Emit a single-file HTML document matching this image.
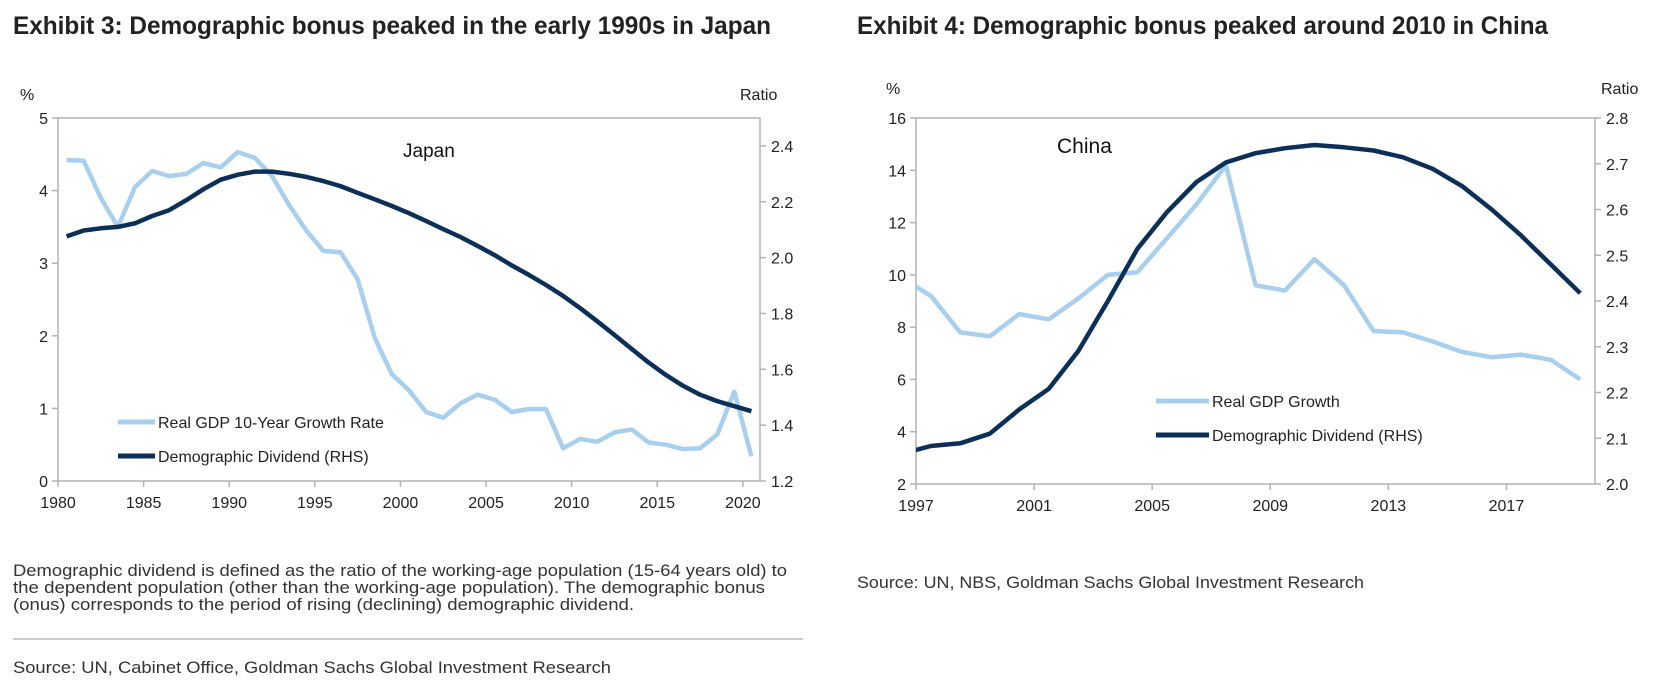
<!DOCTYPE html>
<html><head><meta charset="utf-8"><style>
html,body{margin:0;padding:0;background:#fff;}
svg{display:block;font-family:"Liberation Sans",Arial,sans-serif;}
.t{font-family:"Liberation Sans Narrow","Liberation Sans",sans-serif;font-weight:bold;font-size:25px;fill:#222;}
.n{font-family:"Liberation Sans Narrow","Liberation Sans",sans-serif;font-size:17px;fill:#333;}
.tk{font-size:16px;fill:#222;}
</style></head><body>
<svg id="c" width="1663" height="690" viewBox="0 0 1663 690">
<defs>
<clipPath id="clipJ"><rect x="58" y="118" width="702" height="363"/></clipPath>
<clipPath id="clipC"><rect x="916" y="118" width="679" height="366"/></clipPath>
</defs>
<text class="t" x="13" y="34" textLength="758" lengthAdjust="spacingAndGlyphs">Exhibit 3: Demographic bonus peaked in the early 1990s in Japan</text>
<text class="t" x="857" y="34" textLength="691" lengthAdjust="spacingAndGlyphs">Exhibit 4: Demographic bonus peaked around 2010 in China</text>
<g id="japan"></g>
<g id="china"></g>
<text class="n" x="13" y="576" textLength="774" lengthAdjust="spacingAndGlyphs">Demographic dividend is defined as the ratio of the working-age population (15-64 years old) to</text>
<text class="n" x="13" y="593" textLength="752" lengthAdjust="spacingAndGlyphs">the dependent population (other than the working-age population). The demographic bonus</text>
<text class="n" x="13" y="610" textLength="621" lengthAdjust="spacingAndGlyphs">(onus) corresponds to the period of rising (declining) demographic dividend.</text>
<line x1="13" y1="639" x2="803" y2="639" stroke="#999" stroke-width="1"/>
<text class="n" x="13" y="673" textLength="598" lengthAdjust="spacingAndGlyphs">Source: UN, Cabinet Office, Goldman Sachs Global Investment Research</text>
<text class="n" x="857" y="588" textLength="507" lengthAdjust="spacingAndGlyphs">Source: UN, NBS, Goldman Sachs Global Investment Research</text>
</svg>
<script>
// Japan data
const jpYears = [1980,1981,1982,1983,1984,1985,1986,1987,1988,1989,1990,1991,1992,1993,1994,1995,1996,1997,1998,1999,2000,2001,2002,2003,2004,2005,2006,2007,2008,2009,2010,2011,2012,2013,2014,2015,2016,2017,2018,2019,2020];
const jpGdp = [4.42,4.41,3.9,3.5,4.05,4.27,4.2,4.23,4.38,4.32,4.53,4.45,4.2,3.8,3.45,3.17,3.15,2.78,1.97,1.47,1.25,0.95,0.87,1.07,1.19,1.12,0.95,0.99,0.99,0.45,0.58,0.54,0.67,0.71,0.53,0.50,0.44,0.45,0.64,1.23,0.34];
const jpDD = [2.076,2.097,2.105,2.11,2.123,2.149,2.17,2.206,2.245,2.279,2.297,2.308,2.308,2.3,2.289,2.274,2.256,2.232,2.209,2.185,2.159,2.131,2.102,2.074,2.042,2.009,1.972,1.938,1.902,1.863,1.819,1.772,1.723,1.673,1.624,1.58,1.541,1.509,1.486,1.468,1.45];
const jpXTicks = [1980,1985,1990,1995,2000,2005,2010,2015,2020];
const jpLTicks = [0,1,2,3,4,5];
const jpRTicks = ["1.2","1.4","1.6","1.8","2.0","2.2","2.4"];
// China data (1996 value used only for the clipped lead-in segment)
const cnYears = [1996,1997,1998,1999,2000,2001,2002,2003,2004,2005,2006,2007,2008,2009,2010,2011,2012,2013,2014,2015,2016,2017,2018,2019];
const cnGdp = [9.9,9.2,7.8,7.65,8.5,8.3,9.1,10.0,10.1,11.4,12.7,14.2,9.6,9.4,10.6,9.6,7.85,7.8,7.45,7.05,6.85,6.95,6.75,6.0];
const cnDD = [2.066,2.083,2.089,2.11,2.163,2.208,2.291,2.4,2.514,2.594,2.66,2.703,2.723,2.734,2.741,2.736,2.729,2.714,2.689,2.651,2.6,2.543,2.48,2.417];
const cnXTicks = [1997,2001,2005,2009,2013,2017];
const cnLTicks = [2,4,6,8,10,12,14,16];
const cnRTicks = ["2.0","2.1","2.2","2.3","2.4","2.5","2.6","2.7","2.8"];

const NS="http://www.w3.org/2000/svg";
const LIGHT="#a8d0ee", DARK="#0c2f57", AX="#b3b3b3";
function mk(parent,tag,attrs,text){const e=document.createElementNS(NS,tag);for(const k in attrs)e.setAttribute(k,attrs[k]);if(text!==undefined)e.textContent=text;parent.appendChild(e);return e;}

function chart(g,cfg){
  const {x0,x1,y0,y1,xd,ld,rd}=cfg;
  const X=v=>x0+(v-xd[0])/(xd[1]-xd[0])*(x1-x0);
  const YL=v=>y0-(v-ld[0])/(ld[1]-ld[0])*(y0-y1);
  const YR=v=>y0-(v-rd[0])/(rd[1]-rd[0])*(y0-y1);
  let e;
  e=mk(g,'rect',{x:x0,y:y1,width:x1-x0,height:y0-y1,fill:'none',stroke:AX,'stroke-width':1.5});
  
  
  cfg.lt.forEach(v=>{
    e=mk(g,'line',{x1:x0-6,x2:x0,y1:YL(v),y2:YL(v),stroke:AX,'stroke-width':1.5});
    
    
    e=mk(g,'text',{class:'tk',x:x0-10,y:YL(v)+6,'text-anchor':'end'},String(v));
    
    
  });
  cfg.rt.forEach(s=>{
    const v=parseFloat(s);
    e=mk(g,'line',{x1:x1,x2:x1+6,y1:YR(v),y2:YR(v),stroke:AX,'stroke-width':1.5});
    
    
    e=mk(g,'text',{class:'tk',x:x1+11,y:YR(v)+6},s);
    
    
  });
  cfg.xt.forEach(v=>{
    e=mk(g,'line',{x1:X(v),x2:X(v),y1:y0,y2:y0+6,stroke:AX,'stroke-width':1.5});
    
    
    e=mk(g,'text',{class:'tk',x:X(v),y:y0+27,'text-anchor':'middle'},String(v));
    
    
  });
  const pts=(arr,Y)=>cfg.years.map((yr,i)=>X(yr+0.5).toFixed(1)+','+Y(arr[i]).toFixed(1)).join(' ');
  e=mk(g,'polyline',{points:pts(cfg.gdp,YL),fill:'none',stroke:LIGHT,'stroke-width':4.5,'stroke-linejoin':'round','clip-path':cfg.clip});
  
  
  e=mk(g,'polyline',{points:pts(cfg.dd,YR),fill:'none',stroke:DARK,'stroke-width':4.5,'stroke-linejoin':'round','clip-path':cfg.clip});
  
  
  e=mk(g,'text',{class:'tk',x:cfg.pctX,y:cfg.unitY},'%');
  
  
  e=mk(g,'text',{class:'tk',x:cfg.ratioX,y:cfg.unitY},'Ratio');
  
  
  e=mk(g,'text',{x:cfg.lab[0],y:cfg.lab[1],'font-size':cfg.lab[3],fill:'#111'},cfg.lab[2]);
  
  
  const L=cfg.leg;
  e=mk(g,'line',{x1:L.x,x2:L.x+L.w,y1:L.y1,y2:L.y1,stroke:LIGHT,'stroke-width':5});
  
  
  e=mk(g,'text',{class:'tk',x:L.x+L.w+3,y:L.y1+6,'font-size':L.fs},L.t1);
  
  
  e=mk(g,'line',{x1:L.x,x2:L.x+L.w,y1:L.y2,y2:L.y2,stroke:DARK,'stroke-width':5});
  
  
  e=mk(g,'text',{class:'tk',x:L.x+L.w+3,y:L.y2+6,'font-size':L.fs},'Demographic Dividend (RHS)');
  
  
}
chart(document.getElementById('japan'),{x0:58,x1:760,y0:481,y1:118,xd:[1980,2021],ld:[0,5],rd:[1.2,2.5],
  lt:jpLTicks,rt:jpRTicks,xt:jpXTicks,years:jpYears,gdp:jpGdp,dd:jpDD,clip:'url(#clipJ)',
  pctX:20,ratioX:740,unitY:100,lab:[403,157,'Japan',19],
  leg:{x:118,w:37,y1:422,y2:456,t1:'Real GDP 10-Year Growth Rate',fs:16}});
chart(document.getElementById('china'),{x0:916,x1:1595,y0:484,y1:118,xd:[1997,2020],ld:[2,16],rd:[2.0,2.8],
  lt:cnLTicks,rt:cnRTicks,xt:cnXTicks,years:cnYears,gdp:cnGdp,dd:cnDD,clip:'url(#clipC)',
  pctX:886,ratioX:1601,unitY:94,lab:[1057,153,'China',21],
  leg:{x:1156,w:53,y1:401,y2:435,t1:'Real GDP Growth',fs:18}});
</script>
</body></html>
